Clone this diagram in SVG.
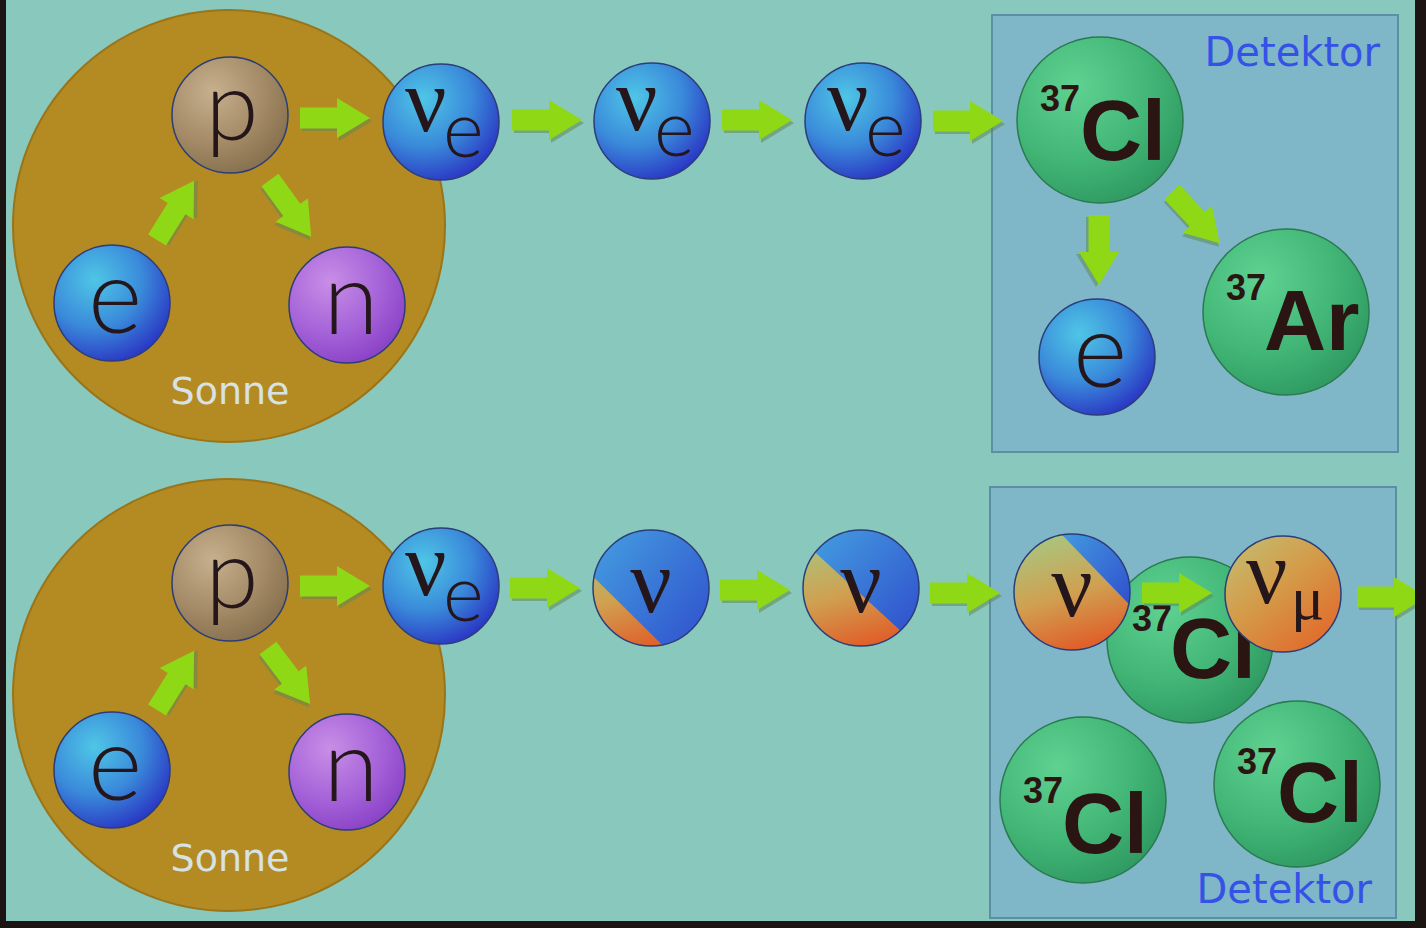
<svg xmlns="http://www.w3.org/2000/svg" xmlns:xlink="http://www.w3.org/1999/xlink" width="1426" height="928" viewBox="0 0 1426 928">
  <style>
    .sun { fill: #b48a22; stroke: #9a7418; stroke-width: 2; }
    .box { fill: #7fb6c8; stroke: #5d8fa4; stroke-width: 2; }
    .rim { stroke: #2b3d7a; stroke-width: 1.5; }
    .grim { stroke: #2a7a50; stroke-width: 1.5; }
    .lbl { font-family: Lato, "DejaVu Sans", "Liberation Sans", sans-serif; font-weight: 300; fill: #24161a; }
    .nu { font-family: "Liberation Serif", "DejaVu Serif", serif; fill: #24161a; }
    .iso { font-family: "Liberation Sans", Arial, sans-serif; font-weight: bold; fill: #2a1512; }
    .sonne { font-family: "DejaVu Sans", "Open Sans", sans-serif; font-size: 38px; fill: #d6e2e4; }
    .det { font-family: "DejaVu Sans", "Open Sans", sans-serif; font-size: 40px; fill: #3552e6; }
  </style>
  <defs>
    <radialGradient id="gBlue" cx="0.35" cy="0.3" r="0.75">
      <stop offset="0" stop-color="#4fc6e6"/>
      <stop offset="0.55" stop-color="#3a8ada"/>
      <stop offset="1" stop-color="#2a36c4"/>
    </radialGradient>
    <radialGradient id="gGreen" cx="0.35" cy="0.3" r="0.75">
      <stop offset="0" stop-color="#5fd292"/>
      <stop offset="0.6" stop-color="#42b676"/>
      <stop offset="1" stop-color="#2f9a62"/>
    </radialGradient>
    <radialGradient id="gPurple" cx="0.35" cy="0.3" r="0.75">
      <stop offset="0" stop-color="#c88ee6"/>
      <stop offset="0.6" stop-color="#a462d8"/>
      <stop offset="1" stop-color="#8a42c6"/>
    </radialGradient>
    <radialGradient id="gProton" cx="0.35" cy="0.3" r="0.75">
      <stop offset="0" stop-color="#c6b08e"/>
      <stop offset="0.6" stop-color="#a48a66"/>
      <stop offset="1" stop-color="#86704e"/>
    </radialGradient>
    <linearGradient id="gMix" x1="0.2" y1="0" x2="0.5" y2="1">
      <stop offset="0" stop-color="#a6c882"/>
      <stop offset="0.55" stop-color="#d0a050"/>
      <stop offset="1" stop-color="#e0602a"/>
    </linearGradient>
    <linearGradient id="gMu" x1="0" y1="0" x2="0.8" y2="1">
      <stop offset="0" stop-color="#c2c074"/>
      <stop offset="0.5" stop-color="#d49a48"/>
      <stop offset="1" stop-color="#e2682a"/>
    </linearGradient>
    <linearGradient id="gWedge" x1="0" y1="0" x2="1" y2="1">
      <stop offset="0" stop-color="#4ab6e6"/>
      <stop offset="1" stop-color="#2a3ac8"/>
    </linearGradient>
    <clipPath id="c1" clipPathUnits="userSpaceOnUse"><circle cx="651" cy="588" r="58"/></clipPath>
    <clipPath id="c2" clipPathUnits="userSpaceOnUse"><circle cx="861" cy="588" r="58"/></clipPath>
    <clipPath id="c3" clipPathUnits="userSpaceOnUse"><circle cx="1072" cy="592" r="58"/></clipPath>
    <!-- block arrow pointing right, tail at the origin -->
    <g id="arrow">
      <path d="M2,-8 L39,-8 L39,-17 L72,3 L39,23 L39,13 L2,13 Z" fill="#5e8a52" opacity="0.55"/>
      <path d="M0,-10.5 L37,-10.5 L37,-20 L70,0 L37,20 L37,10.5 L0,10.5 Z" fill="#8fd816"/>
    </g>
  </defs>

  <!-- screen background -->
  <rect x="0" y="0" width="1426" height="928" fill="#89c8bc"/>

  <!-- suns and detector boxes -->
  <g id="sun-top"><circle class="sun" cx="229" cy="226" r="216"/><text class="sonne" x="230" y="404" text-anchor="middle">Sonne</text></g>
  <g id="sun-bottom"><circle class="sun" cx="229" cy="695" r="216"/><text class="sonne" x="230" y="871" text-anchor="middle">Sonne</text></g>
  <g id="detector-top"><rect class="box" x="992" y="15" width="406" height="437"/><text class="det" x="1380" y="66" text-anchor="end">Detektor</text></g>
  <g id="detector-bottom"><rect class="box" x="990" y="487" width="406" height="431"/><text class="det" x="1372" y="903" text-anchor="end">Detektor</text></g>

  <!-- top row particles -->
  <g id="p-top"><circle class="rim" cx="230" cy="115" r="58" fill="url(#gProton)" stroke="#6e5a40"/><text class="lbl" x="232" y="140" font-size="96" text-anchor="middle">p</text></g>
  <g id="e-top"><circle class="rim" cx="112" cy="303" r="58" fill="url(#gBlue)"/><text class="lbl" x="115" y="333" font-size="104" text-anchor="middle">e</text></g>
  <g id="n-top"><circle class="rim" cx="347" cy="305" r="58" fill="url(#gPurple)" stroke="#6a3a9a"/><text class="lbl" x="351" y="334" font-size="100" text-anchor="middle">n</text></g>
  <g id="nue-top-1"><circle class="rim" cx="441" cy="122" r="58" fill="url(#gBlue)"/><text class="nu" x="405" y="131" font-size="92">ν</text><text class="lbl" x="443" y="157" font-size="78">e</text></g>
  <g id="nue-top-2"><circle class="rim" cx="652" cy="121" r="58" fill="url(#gBlue)"/><text class="nu" x="616" y="130" font-size="92">ν</text><text class="lbl" x="654" y="156" font-size="78">e</text></g>
  <g id="nue-top-3"><circle class="rim" cx="863" cy="121" r="58" fill="url(#gBlue)"/><text class="nu" x="827" y="130" font-size="92">ν</text><text class="lbl" x="865" y="156" font-size="78">e</text></g>
  <g id="cl-top"><circle class="grim" cx="1100" cy="120" r="83" fill="url(#gGreen)"/><text class="iso" x="1040" y="111" font-size="36">37</text><text class="iso" x="1080" y="160" font-size="86">Cl</text></g>
  <g id="e-det"><circle class="rim" cx="1097" cy="357" r="58" fill="url(#gBlue)"/><text class="lbl" x="1100" y="387" font-size="104" text-anchor="middle">e</text></g>
  <g id="ar-det"><circle class="grim" cx="1286" cy="312" r="83" fill="url(#gGreen)"/><text class="iso" x="1226" y="300" font-size="36">37</text><text class="iso" x="1264" y="350" font-size="86">Ar</text></g>

  <!-- bottom row particles -->
  <g id="p-bot"><circle class="rim" cx="230" cy="583" r="58" fill="url(#gProton)" stroke="#6e5a40"/><text class="lbl" x="232" y="608" font-size="96" text-anchor="middle">p</text></g>
  <g id="e-bot"><circle class="rim" cx="112" cy="770" r="58" fill="url(#gBlue)"/><text class="lbl" x="115" y="800" font-size="104" text-anchor="middle">e</text></g>
  <g id="n-bot"><circle class="rim" cx="347" cy="772" r="58" fill="url(#gPurple)" stroke="#6a3a9a"/><text class="lbl" x="351" y="801" font-size="100" text-anchor="middle">n</text></g>
  <g id="nue-bot"><circle class="rim" cx="441" cy="586" r="58" fill="url(#gBlue)"/><text class="nu" x="405" y="595" font-size="92">ν</text><text class="lbl" x="443" y="621" font-size="78">e</text></g>
  <g id="nu-mix-1">
    <circle cx="651" cy="588" r="58" fill="url(#gMix)"/>
    <polygon points="560,544 720,702 720,500 560,500" fill="url(#gWedge)" clip-path="url(#c1)"/>
    <circle class="rim" cx="651" cy="588" r="58" fill="none"/>
    <text class="nu" x="651" y="612" font-size="92" text-anchor="middle">ν</text>
  </g>
  <g id="nu-mix-2">
    <circle cx="861" cy="588" r="58" fill="url(#gMix)"/>
    <polygon points="780,520 940,667 940,500 780,500" fill="url(#gWedge)" clip-path="url(#c2)"/>
    <circle class="rim" cx="861" cy="588" r="58" fill="none"/>
    <text class="nu" x="861" y="612" font-size="92" text-anchor="middle">ν</text>
  </g>
  <g id="cl-mid"><circle class="grim" cx="1190" cy="640" r="83" fill="url(#gGreen)"/><text class="iso" x="1132" y="631" font-size="36">37</text><text class="iso" x="1170" y="678" font-size="86">Cl</text></g>
  <g id="nu-mix-3">
    <circle cx="1072" cy="592" r="58" fill="url(#gMix)"/>
    <polygon points="1040,512 1150,626 1150,500 1040,500" fill="url(#gWedge)" clip-path="url(#c3)"/>
    <circle class="rim" cx="1072" cy="592" r="58" fill="none" stroke="#7a5a3a"/>
    <text class="nu" x="1072" y="616" font-size="92" text-anchor="middle">ν</text>
  </g>
  <g id="numu"><circle class="rim" cx="1283" cy="594" r="58" fill="url(#gMu)" stroke="#8a5a30"/><text class="nu" x="1246" y="603" font-size="92">ν</text><text class="nu" x="1291" y="619" font-size="62">μ</text></g>
  <g id="cl-left"><circle class="grim" cx="1083" cy="800" r="83" fill="url(#gGreen)"/><text class="iso" x="1023" y="803" font-size="36">37</text><text class="iso" x="1062" y="853" font-size="86">Cl</text></g>
  <g id="cl-right"><circle class="grim" cx="1297" cy="784" r="83" fill="url(#gGreen)"/><text class="iso" x="1237" y="774" font-size="36">37</text><text class="iso" x="1277" y="822" font-size="86">Cl</text></g>

  <!-- reaction arrows -->
  <g id="connectors">
    <use xlink:href="#arrow" transform="translate(300,118)"/>
    <use xlink:href="#arrow" transform="translate(157,240) rotate(-58)"/>
    <use xlink:href="#arrow" transform="translate(270,180) rotate(54)"/>
    <use xlink:href="#arrow" transform="translate(512,120)"/>
    <use xlink:href="#arrow" transform="translate(722,120)"/>
    <use xlink:href="#arrow" transform="translate(933,121)"/>
    <use xlink:href="#arrow" transform="translate(1099,215) rotate(90)"/>
    <use xlink:href="#arrow" transform="translate(1172,192) rotate(47)"/>
    <use xlink:href="#arrow" transform="translate(300,586)"/>
    <use xlink:href="#arrow" transform="translate(157,710) rotate(-58)"/>
    <use xlink:href="#arrow" transform="translate(268,648) rotate(53)"/>
    <use xlink:href="#arrow" transform="translate(510,588)"/>
    <use xlink:href="#arrow" transform="translate(720,590)"/>
    <use xlink:href="#arrow" transform="translate(930,593)"/>
    <use xlink:href="#arrow" transform="translate(1142,593)"/>
    <use xlink:href="#arrow" transform="translate(1357,597)"/>
  </g>

  <!-- dark edges of the projection -->
  <rect x="0" y="0" width="6" height="928" fill="#1c1412"/>
  <rect x="1415" y="0" width="11" height="928" fill="#1c1412"/>
  <rect x="0" y="921" width="1426" height="7" fill="#1c1412"/>
</svg>
